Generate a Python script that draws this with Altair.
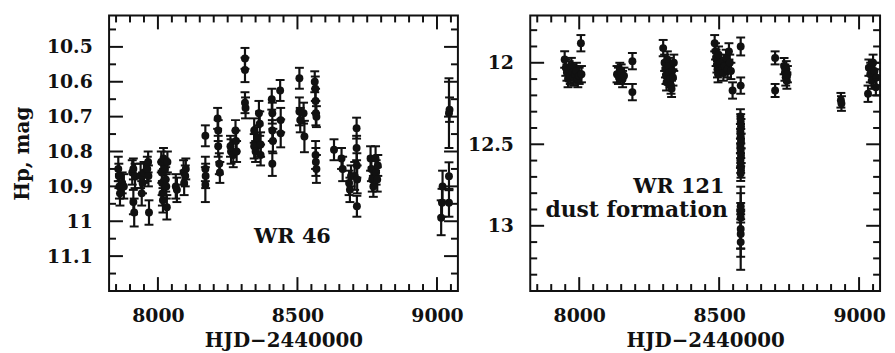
import altair as alt
import pandas as pd

# ---------------- WR 46 (left panel) ----------------
hjd46 = [7858, 7860, 7862, 7864, 7872, 7878,
         7908, 7912, 7912, 7915, 7918,
         7938, 7942, 7945, 7950, 7962, 7965, 7968, 7966,
         8012, 8014, 8015, 8016, 8018, 8020, 8025, 8028, 8030, 8032, 8034,
         8064, 8068,
         8092, 8094, 8098, 8100,
         8170, 8170, 8171, 8170,
         8214, 8216, 8216, 8220, 8222,
         8260, 8262, 8270, 8278, 8280, 8282,
         8312, 8312, 8312, 8314,
         8345, 8345, 8350, 8355, 8362, 8365, 8368, 8368,
         8408, 8410, 8410, 8412, 8410, 8438, 8440, 8440,
         8507, 8507, 8510, 8522, 8525,
         8562, 8564, 8565, 8566, 8568, 8565, 8566, 8568,
         8631, 8658, 8662,
         8685, 8688, 8692, 8705, 8712, 8712, 8713, 8714, 8713,
         8762, 8765, 8768, 8772, 8780, 8782, 8786, 8788,
         9015, 9018, 9020, 9043, 9043, 9043, 9045]
mag46 = [10.85, 10.87, 10.90, 10.92, 10.89, 10.90,
         10.86, 10.85, 10.945, 10.975, 10.87,
         10.87, 10.92, 10.89, 10.86, 10.85, 10.83, 10.975, 10.87,
         10.83, 10.86, 10.89, 10.92, 10.94, 10.82, 10.85, 10.88, 10.90, 10.96, 10.83,
         10.90, 10.91,
         10.86, 10.89, 10.87, 10.85,
         10.755, 10.85, 10.87, 10.895,
         10.705, 10.74, 10.785, 10.835, 10.86,
         10.785, 10.80, 10.81, 10.74, 10.77, 10.80,
         10.533, 10.566, 10.66, 10.675,
         10.74, 10.785, 10.80, 10.76, 10.69, 10.72, 10.78, 10.81,
         10.65, 10.69, 10.74, 10.77, 10.835, 10.625, 10.71, 10.748,
         10.59, 10.685, 10.71, 10.69, 10.757,
         10.60, 10.62, 10.655, 10.69, 10.70, 10.81, 10.83, 10.85,
         10.795, 10.82, 10.85,
         10.89, 10.91, 10.87, 10.87, 10.733, 10.79, 10.84, 10.88, 10.957,
         10.82, 10.85, 10.88, 10.90, 10.82, 10.86, 10.88, 10.84,
         10.99, 10.947, 10.90, 10.947, 10.871, 10.69, 10.68]
err46 = [0.035, 0.035, 0.035, 0.035, 0.03, 0.035,
         0.035, 0.03, 0.035, 0.04, 0.035,
         0.035, 0.035, 0.03, 0.03, 0.035, 0.03, 0.035, 0.03,
         0.03, 0.03, 0.035, 0.035, 0.035, 0.03, 0.03, 0.035, 0.035, 0.035, 0.03,
         0.035, 0.035,
         0.035, 0.035, 0.03, 0.03,
         0.03, 0.035, 0.035, 0.05,
         0.03, 0.03, 0.03, 0.03, 0.03,
         0.03, 0.035, 0.035, 0.03, 0.03, 0.03,
         0.03, 0.035, 0.03, 0.03,
         0.035, 0.035, 0.03, 0.03, 0.035, 0.035, 0.035, 0.03,
         0.03, 0.03, 0.03, 0.035, 0.035, 0.03, 0.035, 0.04,
         0.03, 0.04, 0.035, 0.03, 0.045,
         0.03, 0.035, 0.035, 0.035, 0.03, 0.04, 0.04, 0.04,
         0.03, 0.03, 0.035,
         0.035, 0.035, 0.03, 0.04, 0.03, 0.035, 0.035, 0.04, 0.03,
         0.035, 0.035, 0.035, 0.03, 0.035, 0.035, 0.035, 0.03,
         0.05, 0.04, 0.045, 0.04, 0.04, 0.1, 0.035]

# ---------------- WR 121 (right panel) ----------------
hjd121 = [7948, 7952, 7956, 7960, 7964, 7968, 7972, 7976, 7980, 7985, 7990, 7995, 8000, 8008, 8006,
          8135, 8140, 8145, 8150, 8155, 8160, 8190, 8190,
          8300, 8305, 8308, 8310, 8312, 8315, 8320, 8322, 8325, 8328, 8330, 8332, 8335, 8338,
          8484, 8487, 8489, 8492, 8494, 8496, 8498, 8505, 8510, 8515, 8520, 8525, 8530, 8535, 8538, 8542, 8548,
          8577, 8577,
          8576, 8577, 8578, 8576, 8577, 8578, 8576, 8577, 8578, 8576, 8577, 8578, 8577,
          8577, 8577, 8577, 8577, 8577, 8577,
          8700, 8700,
          8732, 8735, 8738, 8740, 8742, 8744,
          8935, 8937,
          9032, 9035, 9040, 9045, 9050, 9055, 9060, 9062]
mag121 = [11.98, 12.03, 12.06, 12.10, 12.04, 12.08, 12.02, 12.06, 12.09, 12.07, 12.05, 12.10, 12.08, 12.07, 11.88,
          12.07, 12.08, 12.05, 12.06, 12.10, 12.08, 11.99, 12.18,
          11.91, 12.00, 12.04, 12.08, 12.12, 11.98, 12.02, 12.06, 12.10, 12.14, 12.16, 12.05, 12.09, 12.00,
          11.88, 11.93, 11.97, 12.01, 12.04, 12.07, 11.95, 12.00, 12.03, 12.06, 12.02, 11.97, 12.04, 11.93, 12.00, 12.05, 12.17,
          11.90, 12.14,
          12.33, 12.36, 12.39, 12.42, 12.45, 12.48, 12.51, 12.54, 12.57, 12.60, 12.63, 12.66, 12.68,
          12.88, 12.92, 13.02, 13.05, 13.10, 12.95,
          11.97, 12.17,
          12.02, 12.06, 12.09, 12.04, 12.11, 12.07,
          12.23, 12.25,
          12.19, 12.03, 12.07, 12.11, 12.00, 12.05, 12.15, 12.09]
err121 = [0.05] * 15 + [0.05] * 8 + [0.05] * 14 + [0.05] * 17 + \
         [0.055, 0.05] + [0.045] * 13 + \
         [0.08, 0.06, 0.12, 0.14, 0.17, 0.19] + \
         [0.04, 0.04] + [0.05] * 6 + [0.045, 0.045] + [0.05] * 8

# axis labels / ticks
x_major = [8000, 8500, 9000]
x_minor = [7850, 7900, 7950, 8050, 8100, 8150, 8200, 8250, 8300, 8350, 8400, 8450,
           8550, 8600, 8650, 8700, 8750, 8800, 8850, 8900, 8950, 9050]
y46_major = [10.5, 10.6, 10.7, 10.8, 10.9, 11.0, 11.1]
y46_minor = [10.45, 10.55, 10.65, 10.75, 10.85, 10.95, 11.05, 11.15]
y121_major = [12.0, 12.5, 13.0]
y121_minor = [11.8, 11.9, 12.1, 12.2, 12.3, 12.4, 12.6, 12.7, 12.8, 12.9, 13.1, 13.2, 13.3]

# annotations
lab46_x, lab46_y, lab46_t, lab46_s = [8482], [11.061], ["WR 46"], [21]
lab121_x, lab121_y = [8519, 8531], [12.80, 12.945]
lab121_t, lab121_s = ["WR 121", "dust formation"], [21, 22]

X_DOMAIN = [7825, 9075]
H = 278
INK = "#111111"
FONT = "DejaVu Serif"
MAJ, MIN = 14, 7


def make_df(h, m, e):
    df = pd.DataFrame({"hjd": h, "mag": m, "err": e})
    df["lo"] = df["mag"] - df["err"]
    df["hi"] = df["mag"] + df["err"]
    return df


def panel(df, ydom, ymaj, ymin, width, ytitle, tx, ty, tt, ts, talign):
    xs = alt.Scale(domain=X_DOMAIN, nice=False, zero=False)
    ys = alt.Scale(domain=ydom, reverse=True, nice=False, zero=False)
    xaxis = alt.Axis(values=x_major, format="d", title="HJD−2440000",
                     labelPadding=16, titlePadding=5)
    if ytitle is None:
        yaxis = alt.Axis(values=ymaj, format="~g", labelPadding=17, title=None)
    else:
        yaxis = alt.Axis(values=ymaj, format="~g", labelPadding=17, titlePadding=14, title=ytitle)

    def X(f):
        return alt.X(f, scale=xs, axis=xaxis)

    def Y(f):
        return alt.Y(f, scale=ys, axis=yaxis)

    base = alt.Chart(df)
    bars = base.mark_rule(color=INK, strokeWidth=2.2).encode(
        x=X("hjd:Q"), y=Y("lo:Q"), y2="hi:Q")
    cap_lo = base.mark_tick(orient="horizontal", size=9, thickness=2, color=INK, opacity=1).encode(
        x=X("hjd:Q"), y=Y("lo:Q"))
    cap_hi = base.mark_tick(orient="horizontal", size=9, thickness=2, color=INK, opacity=1).encode(
        x=X("hjd:Q"), y=Y("hi:Q"))
    pts = base.mark_circle(size=64, color=INK, opacity=1).encode(
        x=X("hjd:Q"), y=Y("mag:Q"))

    # inward frame ticks, expressed in data units of each scale (tick length in px -> data)
    ytop, ybot = ydom
    xl, xr = X_DOMAIN
    y_per_px = (ybot - ytop) / H
    x_per_px = (xr - xl) / width
    rows_x, rows_y = [], []
    for vals, ln in ((x_major, MAJ), (x_minor, MIN)):
        for v in vals:
            rows_x.append({"p": v, "a": ybot, "b": ybot - ln * y_per_px})
            rows_x.append({"p": v, "a": ytop, "b": ytop + ln * y_per_px})
    for vals, ln in ((ymaj, MAJ), (ymin, MIN)):
        for v in vals:
            rows_y.append({"p": v, "a": xl, "b": xl + ln * x_per_px})
            rows_y.append({"p": v, "a": xr, "b": xr - ln * x_per_px})
    tx_chart = alt.Chart(pd.DataFrame(rows_x)).mark_rule(color=INK, strokeWidth=2).encode(
        x=X("p:Q"), y=Y("a:Q"), y2="b:Q")
    ty_chart = alt.Chart(pd.DataFrame(rows_y)).mark_rule(color=INK, strokeWidth=2).encode(
        y=Y("p:Q"), x=X("a:Q"), x2="b:Q")

    tdf = pd.DataFrame({"x": tx, "y": ty, "t": tt, "s": ts})
    txt = alt.Chart(tdf).mark_text(align=talign, baseline="alphabetic", font=FONT,
                                   fontWeight="bold", color=INK).encode(
        x=X("x:Q"), y=Y("y:Q"), text="t:N",
        size=alt.Size("s:Q", scale=None, legend=None))
    return alt.layer(bars, cap_lo, cap_hi, pts, tx_chart, ty_chart, txt).properties(
        width=width, height=H)


left = panel(make_df(hjd46, mag46, err46), [10.41, 11.2], y46_major, y46_minor, 352,
             "Hp, mag", lab46_x, lab46_y, lab46_t, lab46_s, "center")
right = panel(make_df(hjd121, mag121, err121), [11.71, 13.4], y121_major, y121_minor, 353,
              None, lab121_x, lab121_y, lab121_t, lab121_s, "right")

chart = alt.hconcat(left, right, spacing=1).properties(
    padding={"left": 3, "top": 4, "right": 0, "bottom": 0}
).configure_view(stroke=INK, strokeWidth=2).configure_axis(
    ticks=False, domain=False, grid=False,
    labelFont=FONT, labelFontSize=19, labelFontWeight="bold", labelColor=INK,
    titleFont=FONT, titleFontSize=20, titleFontWeight="bold", titleColor=INK,
)

chart.save("out.html", embed_options={"renderer": "svg", "actions": False})
